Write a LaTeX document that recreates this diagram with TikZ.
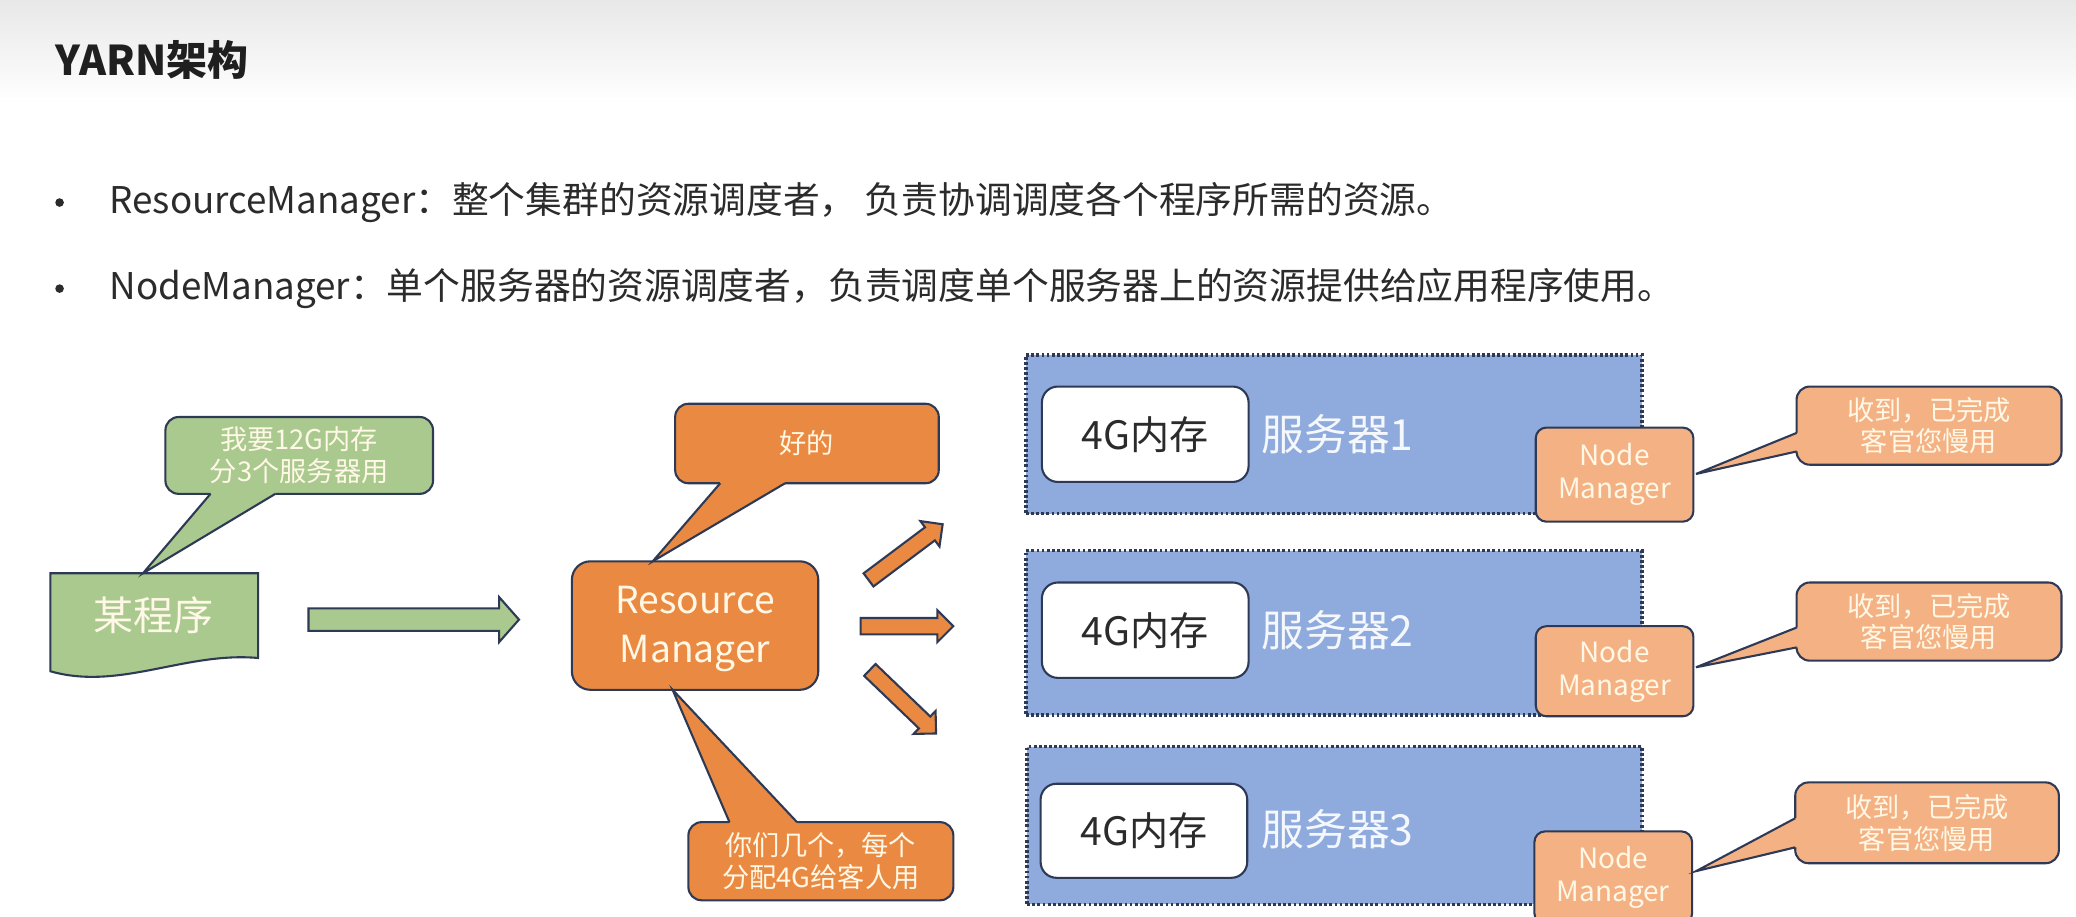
\documentclass[tikz,border=0pt]{standalone}
\usepackage{fontspec}
\setmainfont{Noto Sans CJK SC}
\usetikzlibrary{calc}
\definecolor{bord}{HTML}{2E3A55}
\definecolor{grn}{HTML}{A9C98F}
\definecolor{org}{HTML}{EA8A42}
\definecolor{nmc}{HTML}{F4B284}
\definecolor{srv}{HTML}{8FAADC}
\definecolor{cream}{HTML}{FFF8E6}
\definecolor{txtd}{HTML}{2B2B2B}
\definecolor{srvtxt}{HTML}{F4F7FC}
\newcommand\calltail[5]{%
  \fill[#1] ($(#2)+(#5)$) -- (#2) -- (#4) -- (#3) -- ($(#3)+(#5)$) -- cycle;
  \draw[bd, line join=miter] (#2) -- (#4) -- (#3);}
\newcommand\blockarrow[6]{%
  \coordinate (n#2) at ($(#3)!#6!(#2)$);
  \draw[#1, line join=miter] ($(#2)!#4!90:(#3)$) -- ($(n#2)!#4!90:(#3)$) -- ($(n#2)!#5!90:(#3)$) -- (#3)
     -- ($(n#2)!#5!-90:(#3)$) -- ($(n#2)!#4!-90:(#3)$) -- ($(#2)!#4!-90:(#3)$) -- cycle;}
\begin{document}
\begin{tikzpicture}[x=0.01cm,y=-0.01cm,
  bd/.style={draw=bord, line width=0.45pt},
  orangebox/.style={bd, fill=org, rounded corners=0.14cm, inner sep=0},
  server/.style={fill=srv, draw=bord, line width=0.75pt, dash pattern=on 0.6pt off 0.5pt, minimum width=4.65cm, inner sep=0},
  memb/.style={bd, fill=white, rounded corners=0.12cm, minimum width=1.56cm, minimum height=0.72cm, font=\fontsize{8.4}{9}\selectfont, text=txtd, inner sep=0},
  srvlabel/.style={anchor=west, font=\fontsize{9.2}{10}\selectfont, text=srvtxt, inner sep=0},
  nmbox/.style={bd, fill=nmc, rounded corners=0.08cm, minimum width=1.19cm, minimum height=0.70cm, font=\fontsize{6}{7.1}\selectfont, text=cream, align=center, inner sep=0},
  callbox/.style={bd, rounded corners=0.1cm, minimum width=2cm, minimum height=0.59cm, font=\fontsize{5.85}{6.8}\selectfont, text=cream, align=center, inner sep=0},
  bulltext/.style={anchor=west, font=\fontsize{7.9}{9}\selectfont, text=txtd, inner sep=0},
  bulldot/.style={circle, fill=txtd, inner sep=0, minimum size=0.065cm}
]
\useasboundingbox (0,0) rectangle (1568,692);
\clip (0,0) rectangle (1568,692);
\fill[white] (0,0) rectangle (1568,692);
\shade[top color=black!9, bottom color=white] (0,0) rectangle (1568,78);

% title and bullets
\node[anchor=west, font=\fontsize{8.8}{10}\selectfont\bfseries, text=black!88, inner sep=0] (title) at (41,45) {YARN架构};
\node[bulldot] (d1) at (45,153) {};
\node[bulltext] (b1) at (82,153) {ResourceManager：整个集群的资源调度者， 负责协调调度各个程序所需的资源。};
\node[bulldot] (d2) at (45,218) {};
\node[bulltext] (b2) at (82,218) {NodeManager：单个服务器的资源调度者，负责调度单个服务器上的资源提供给应用程序使用。};

% program (document shape)
\draw[bd, fill=grn] (38,433) -- (195,433) -- (195,497) .. controls (140,492) and (90,522) .. (38,507) -- cycle;
\node[font=\fontsize{8.6}{10}\selectfont, text=cream, inner sep=0] (prog) at (116,465) {某程序};
\coordinate (progtop) at (108,433);

% green callout
\node[callbox, fill=grn, minimum width=2.02cm, minimum height=0.58cm] (cg) at (226,344) {我要12G内存\\分3个服务器用};
\calltail{grn}{159,373}{208,373}{progtop}{0,-2}

% green block arrow
\coordinate (ga) at (233,468);
\coordinate (gb) at (392,468);
\blockarrow{bd, fill=grn}{ga}{gb}{0.085cm}{0.17cm}{0.15cm}

% resource manager
\node[orangebox, minimum width=1.86cm, minimum height=0.97cm] (rm) at (525,472.5) {};
\node[font=\fontsize{8}{10.5}\selectfont, text=cream, align=center, inner sep=0] (rmtext) at (525,475) {Resource\\Manager};

% orange callouts
\node[callbox, fill=org, minimum width=1.99cm, minimum height=0.60cm] (cok) at (609.5,335) {好的};
\calltail{org}{544,365}{593,365}{493,424}{0,-2}
\node[callbox, fill=org, minimum width=2.0cm, minimum height=0.59cm] (cdist) at (620,650.5) {你们几个，每个\\分配4G给客人用};
\calltail{org}{551,621}{602,621}{508,521}{0,2}

% orange block arrows
\coordinate (a1t) at (656,438); \coordinate (a1h) at (712,396);
\coordinate (a2t) at (650,473); \coordinate (a2h) at (720,473);
\coordinate (a3t) at (657,506); \coordinate (a3h) at (707,554);
\blockarrow{bd, fill=org}{a1t}{a1h}{0.062cm}{0.12cm}{0.12cm}
\blockarrow{bd, fill=org}{a2t}{a2h}{0.062cm}{0.12cm}{0.12cm}
\blockarrow{bd, fill=org}{a3t}{a3h}{0.062cm}{0.12cm}{0.12cm}

% server 1
\node[server, minimum height=1.20cm] (s1) at (1007.5,328) {};
\node[memb] (m1) at (865,328) {4G内存};
\node[srvlabel] (l1) at (952,328) {服务器1};
\node[nmbox, minimum height=0.71cm] (nm1) at (1219.5,358.5) {Node\\Manager};
\node[callbox, fill=nmc] (c1) at (1457,321.5) {收到，已完成\\客官您慢用};
\calltail{nmc}{1357,327}{1357,341}{1281,358}{2,0}

% server 2
\node[server, minimum height=1.24cm] (s2) at (1007.5,478) {};
\node[memb] (m2) at (865,476) {4G内存};
\node[srvlabel] (l2) at (952,476) {服务器2};
\node[nmbox, minimum height=0.68cm] (nm2) at (1219.5,507) {Node\\Manager};
\node[callbox, fill=nmc] (c2) at (1457,469.5) {收到，已完成\\客官您慢用};
\calltail{nmc}{1357,474}{1357,489}{1281,504}{2,0}

% server 3
\node[server, minimum height=1.19cm, minimum width=4.64cm] (s3) at (1008,623.5) {};
\node[memb, minimum height=0.71cm] (m3) at (864,627.5) {4G内存};
\node[srvlabel] (l3) at (952,626) {服务器3};
\node[nmbox] (nm3) at (1218.5,663) {Node\\Manager};
\node[callbox, fill=nmc, minimum width=1.99cm, minimum height=0.61cm] (c3) at (1455.5,621.5) {收到，已完成\\客官您慢用};
\calltail{nmc}{1356,618}{1356,640}{1281,658}{2,0}
\end{tikzpicture}
\end{document}
